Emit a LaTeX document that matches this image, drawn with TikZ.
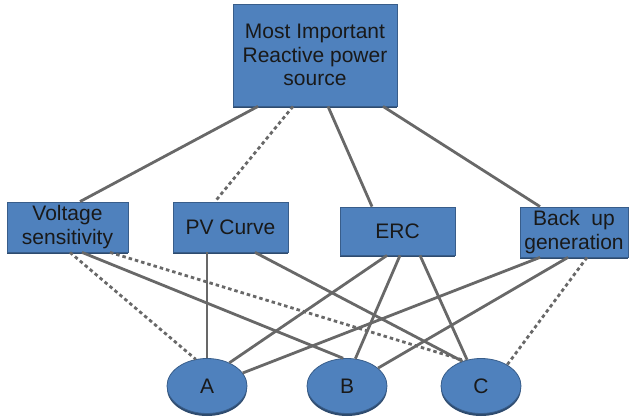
\documentclass[tikz,border=0pt]{standalone}
\usepackage{fontspec}
\setmainfont{Liberation Sans}
\usetikzlibrary{shapes.geometric,shadows}
\definecolor{boxblue}{HTML}{4F81BD}
\definecolor{boxedge}{HTML}{385D8A}
\definecolor{shadowc}{HTML}{2E4B6E}
\definecolor{linec}{HTML}{686868}
\tikzset{
  blk/.style={draw=boxedge, line width=0.8pt, fill=boxblue, inner sep=0pt, align=center,
    font=\fontsize{21}{23.5}\selectfont, text=black!90,
    drop shadow={shadow xshift=0pt, shadow yshift=-2.5pt, fill=shadowc, opacity=1}},
  oval/.style={blk, ellipse, minimum width=80pt, minimum height=55pt},
  conn/.style={draw=linec, line width=2.8pt},
  dconn/.style={conn, dash pattern=on 3.5pt off 3pt},
}
\begin{document}
\begin{tikzpicture}[x=1pt,y=-1pt]
\useasboundingbox (0,0) rectangle (631,419);
\node[blk, minimum width=164pt, minimum height=102pt] (T) at (315,55) {Most Important\\Reactive power\\source};
\node[blk, minimum width=121pt, minimum height=50pt] (V) at (67.5,227) {Voltage\\sensitivity};
\node[blk, minimum width=115pt, minimum height=50pt] (P) at (230.5,227) {PV Curve};
\node[blk, minimum width=115pt, minimum height=48pt] (E) at (397.5,231) {ERC};
\node[blk, minimum width=108pt, minimum height=50pt] (U) at (574,232) {Back\ \ up\\generation};
\node[oval] (A) at (207,386) {A};
\node[oval] (B) at (347,386) {B};
\node[oval] (C) at (481,386) {C};
% top connectors
\draw[conn]  ([xshift=-57pt]T.south) -- ([xshift=12.5pt]V.north);
\draw[dconn] ([xshift=-22pt]T.south) -- ([xshift=-15.5pt]P.north);
\draw[conn]  ([xshift=13pt]T.south) -- ([xshift=-25.5pt]E.north);
\draw[conn]  ([xshift=68pt]T.south) -- ([xshift=-34pt]U.north);
% bottom connectors
\draw[dconn] ([xshift=2.5pt]V.south) -- (A.113);
\draw[conn]  ([xshift=14.5pt]V.south) -- (B.98);
\draw[dconn] ([xshift=42.5pt]V.south) -- (C.123);
\draw[conn]  ([xshift=-23.5pt]P.south) -- (A.90);
\draw[conn]  ([xshift=24.5pt]P.south) -- (C.127);
\draw[conn]  ([xshift=-10.5pt]E.south) -- (A.46);
\draw[conn]  ([xshift=2.5pt]E.south) -- (B.73);
\draw[conn]  ([xshift=22.5pt]E.south) -- (C.118);
\draw[conn]  ([xshift=-34pt]U.south) -- (A.20);
\draw[conn]  ([xshift=-6pt]U.south) -- (B.30);
\draw[dconn] ([xshift=13pt]U.south) -- (C.39);
\end{tikzpicture}
\end{document}
